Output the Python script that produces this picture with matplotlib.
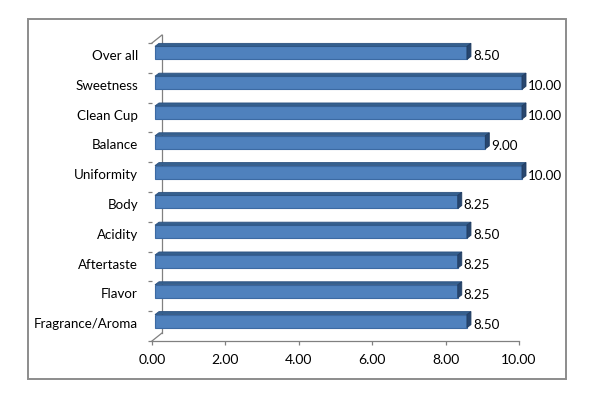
import matplotlib
matplotlib.use("Agg")
import matplotlib.pyplot as plt
from matplotlib.patches import Rectangle, Polygon
import numpy as np

categories = ["Fragrance/Aroma", "Flavor", "Aftertaste", "Acidity", "Body",
              "Uniformity", "Balance", "Clean Cup", "Sweetness", "Over all"]
values = [8.50, 8.25, 8.25, 8.50, 8.25, 10.00, 9.00, 10.00, 10.00, 8.50]
xticks = [0, 2, 4, 6, 8, 10]

plt.rcParams['font.family'] = ['Lato', 'DejaVu Sans']

W, H = 600, 407
fig = plt.figure(figsize=(6, 4.07), dpi=100)
fig.patch.set_facecolor("white")

left, right = 152 / W, 519 / W
top, bottom = 1 - 43 / H, 1 - 341 / H
ax = fig.add_axes([left, bottom, right - left, top - bottom])
ax.set_xlim(0, 10)
ax.set_ylim(-0.6, 9.4)
for s in ["top", "right", "left"]:
    ax.spines[s].set_visible(False)
ax.spines["bottom"].set_color("#808080")
ax.spines["bottom"].set_linewidth(0.9)

fig.canvas.draw()
T = ax.transData
wall_dx, wall_dy = 10, 8          # pixels, back-wall depth
gray = "#808080"

# back wall vertical line and diagonals
b0 = T.transform((0, -0.6))
t0 = T.transform((0, 9.4))
ax.plot([b0[0] + wall_dx, t0[0] + wall_dx], [b0[1] + wall_dy, t0[1] + wall_dy],
        color=gray, lw=0.9, transform=None, clip_on=False)
for p in (b0, t0):
    ax.plot([p[0], p[0] + wall_dx], [p[1], p[1] + wall_dy],
            color=gray, lw=0.9, transform=None, clip_on=False)

ypos = np.arange(len(categories))
bh = 0.44
sx, sy = 3, 2        # bar front-face shift (px)
cdx, cdy = 4, 3      # bar depth (px)
for y, v in zip(ypos, values):
    a = T.transform((0, y - bh / 2))
    b = T.transform((v, y - bh / 2))
    c = T.transform((v, y + bh / 2))
    d = T.transform((0, y + bh / 2))
    a, b, c, d = [(p[0] + sx, p[1] + sy) for p in (a, b, c, d)]
    ax.add_patch(Polygon([a, b, c, d], closed=True, facecolor="#4F81BD",
                         edgecolor="#3C6AA3", linewidth=0.8, transform=None,
                         clip_on=False, zorder=3))
    ax.add_patch(Polygon([d, c, (c[0] + cdx, c[1] + cdy), (d[0] + cdx, d[1] + cdy)],
                         closed=True, facecolor="#35608F", edgecolor="#2D5280",
                         linewidth=0.6, transform=None, clip_on=False, zorder=3))
    ax.add_patch(Polygon([b, c, (c[0] + cdx, c[1] + cdy), (b[0] + cdx, b[1] + cdy)],
                         closed=True, facecolor="#27466F", edgecolor="#203C60",
                         linewidth=0.6, transform=None, clip_on=False, zorder=3))
    ax.annotate(f"{v:.2f}", xy=(v, y), xytext=(6.5, -1.0), textcoords="offset points",
                ha="left", va="center", fontsize=9.6, color="#000000",
                annotation_clip=False)

ax.set_yticks(np.arange(-0.6, 9.41, 1.0))
ax.set_yticklabels([])
ax.set_yticks(ypos, minor=True)
ax.set_yticklabels(categories, minor=True, fontsize=9.6)
ax.tick_params(axis="y", which="major", length=3, color=gray, width=0.9)
ax.tick_params(axis="y", which="minor", length=0, pad=10)

ax.set_xticks(xticks)
ax.set_xticklabels([f"{t:.2f}" for t in xticks], fontsize=10)
ax.tick_params(axis="x", length=3, color=gray, width=0.9, pad=6)

# outer border
fig.patches.append(Rectangle((28 / W, 1 - 379 / H), 538 / W, 360 / H,
                             transform=fig.transFigure, fill=False,
                             edgecolor="#8c8c8c", linewidth=1.4, zorder=10))

fig.savefig("out.png", dpi=100, facecolor="white")
